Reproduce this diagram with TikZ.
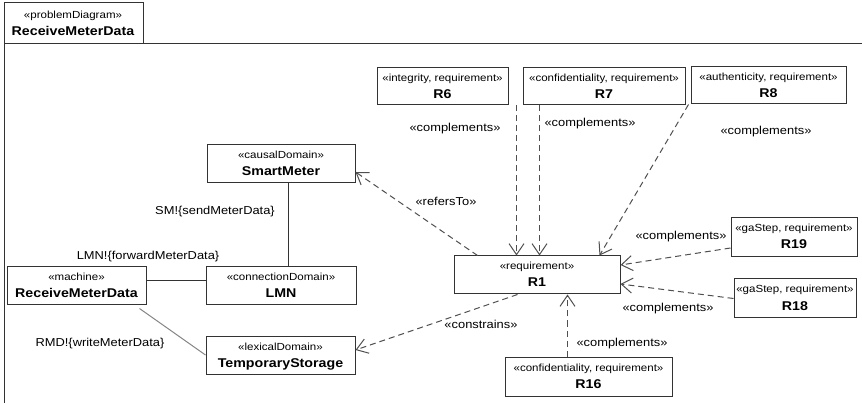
\documentclass[tikz,border=0pt]{standalone}
\usepackage{fontspec}
\setmainfont[FakeStretch=1.12]{Liberation Sans}
\usetikzlibrary{arrows.meta}

\definecolor{boxgray}{HTML}{333333}
\definecolor{depgray}{HTML}{4F4F4F}
\definecolor{linkgray}{HTML}{858585}

% a stereotyped box: name, left, top, right, bottom, stereotype, title
\newcommand\umlbox[7]{%
  \node[ubox, minimum width={(#4-#2)*1pt}, minimum height={(#5-#3)*1pt}]
    (#1) at ({(#2+#4)/2},{(#3+#5)/2}) {};
  \node[stereo] (#1-st) at ([yshift=-14.5pt]#1.north) {#6};
  \node[title]  (#1-ti) at ([yshift=-31.5pt]#1.north) {#7};
}

\begin{document}
\begin{tikzpicture}[x=1pt,y=-1pt,
  ubox/.style={draw=boxgray, line width=1pt, fill=white, inner sep=0pt},
  stereo/.style={inner sep=0pt, anchor=base, font=\fontsize{10.3}{12}\selectfont},
  title/.style={inner sep=0pt, anchor=base, font=\fontsize{12.7}{15}\selectfont\bfseries},
  lbl/.style={inner sep=0pt, anchor=base, font=\fontsize{11.5}{14}\selectfont},
  frame/.style={draw=boxgray, line width=1pt},
  link/.style={draw=boxgray, line width=1pt},
  dep/.style={draw=depgray, line width=1pt, dash pattern=on 6pt off 4pt,
    -{Straight Barb[length=11pt,width=15pt,line width=1pt]}}]

\useasboundingbox (0,0) rectangle (862,403);

% diagram frame with its name tab
\draw[frame] (4,403) -- (4,3) -- (143,3) -- (143,44);
\draw[frame] (4,44) -- (862,44);
\node[stereo] (tab-st) at (73,18.5) {«problemDiagram»};
\node[title]  (tab-ti) at (73,35.5) {ReceiveMeterData};

% domains
\umlbox{sm}{207}{145}{355}{183}{«causalDomain»}{SmartMeter}
\umlbox{mach}{7}{267}{146}{305}{«machine»}{ReceiveMeterData}
\umlbox{lmn}{206}{267}{356}{305}{«connectionDomain»}{LMN}
\umlbox{ts}{206}{336}{355}{374}{«lexicalDomain»}{TemporaryStorage}

% requirements
\umlbox{r6}{377}{68}{508}{105}{«integrity, requirement»}{R6}
\umlbox{r7}{523}{68}{685}{105}{«confidentiality, requirement»}{R7}
\umlbox{r8}{691}{67}{846}{104}{«authenticity, requirement»}{R8}
\umlbox{r1}{454}{256}{620}{294}{«requirement»}{R1}
\umlbox{r19}{731}{218}{857}{257}{«gaStep, requirement»}{R19}
\umlbox{r18}{734}{279}{856}{318}{«gaStep, requirement»}{R18}
\umlbox{r16}{505}{357}{672}{396}{«confidentiality, requirement»}{R16}

% interfaces
\draw[link] ([xshift=82pt]sm.south west) coordinate (smdown) -- (smdown |- lmn.north);
\draw[link] ([yshift=5pt]mach.east) coordinate (machright) -- (machright -| lmn.west);
\draw[draw=linkgray, line width=1pt] ([xshift=-7pt,yshift=-3pt]mach.south east) -- (ts.west);

\node[lbl] (l-sm)  at (215,215) {SM!\{sendMeterData\}};
\node[lbl] (l-lmn) at (148,260) {LMN!\{forwardMeterData\}};
\node[lbl] (l-rmd) at (100,346) {RMD!\{writeMeterData\}};

% dependencies
\draw[dep] ([xshift=24pt]r1.north west) -- ([yshift=-8pt]sm.east);
\draw[dep] ([xshift=8pt]r6.south east) coordinate (r6down) -- (r6down |- r1.north);
\draw[dep] ([xshift=17pt]r7.south west) coordinate (r7down) -- (r7down |- r1.north);
\draw[dep] ([xshift=-2pt]r8.south west) -- ([xshift=-21pt]r1.north east);
\draw[dep] ([yshift=-10.5pt]r19.west) -- ([yshift=10pt]r1.east);
\draw[dep] (r18.west) -- ([yshift=-9pt]r1.east);
\draw[dep] ([xshift=63pt]r16.north west) coordinate (r16up) -- (r16up |- r1.south);
\draw[dep] ([xshift=64pt]r1.south west) -- ([yshift=5pt]ts.east);

\node[lbl] (l-ref)  at (446,206) {«refersTo»};
\node[lbl] (l-c6)   at (455,132) {«complements»};
\node[lbl] (l-c7)   at (590,127) {«complements»};
\node[lbl] (l-c8)   at (766,135) {«complements»};
\node[lbl] (l-c19)  at (681,240) {«complements»};
\node[lbl] (l-c18)  at (668,312) {«complements»};
\node[lbl] (l-c16)  at (622,346) {«complements»};
\node[lbl] (l-con)  at (481,329) {«constrains»};
\end{tikzpicture}
\end{document}
